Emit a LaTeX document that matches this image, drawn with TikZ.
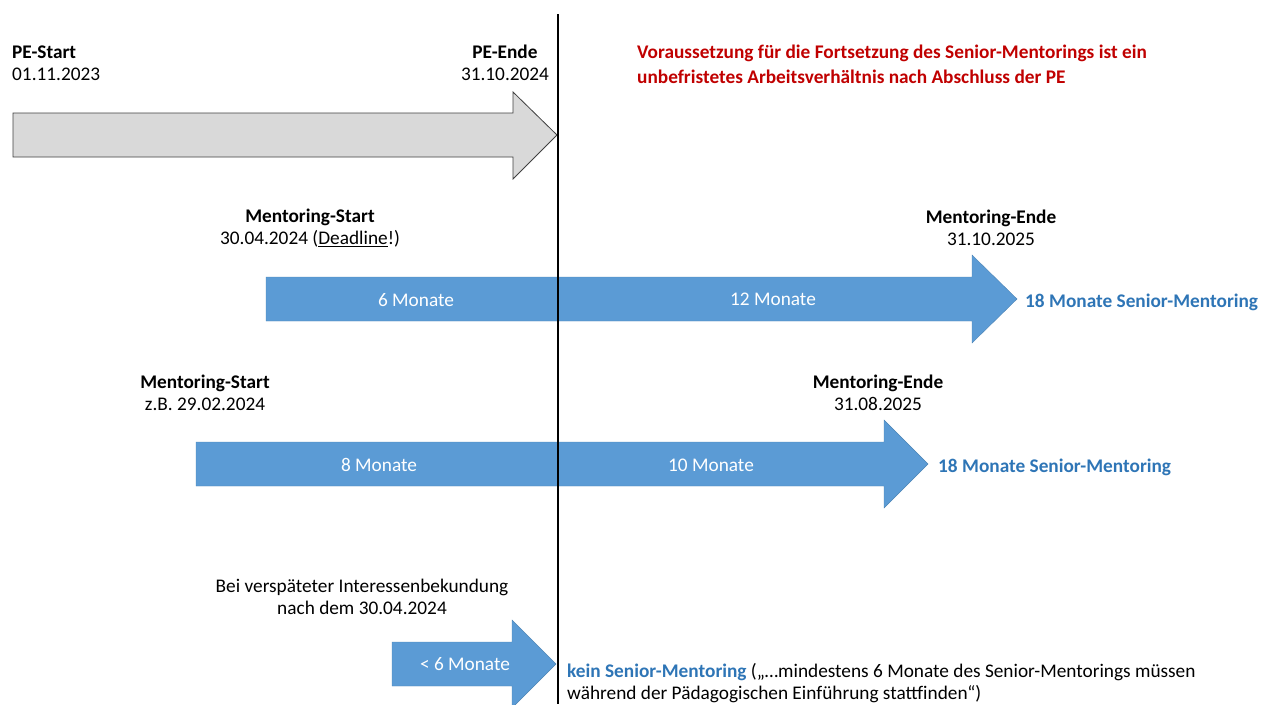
\documentclass[tikz,border=0pt]{standalone}
\usepackage{fontspec}
\setmainfont{Carlito}
\usepackage{tikz}
\usetikzlibrary{positioning}
\definecolor{arrowblue}{HTML}{5B9BD5}
\definecolor{textblue}{HTML}{2E75B6}
\definecolor{textred}{HTML}{C00000}
\definecolor{arrowgray}{HTML}{D9D9D9}

\begin{document}
\begin{tikzpicture}[x=1pt,y=-1pt,inner sep=0pt,font=\fontsize{19.3}{22.5}\selectfont]
\tikzstyle{caption}=[align=center]
\tikzstyle{inarrow}=[text=white]
\tikzstyle{bluearrow}=[fill=arrowblue,draw=arrowblue!85!black,line width=0.4pt]
\tikzstyle{grayarrow}=[fill=arrowgray,draw=black!75,line width=0.8pt]
\tikzstyle{result}=[anchor=west,text=textblue,font=\fontsize{19.3}{22.5}\selectfont\bfseries]

\useasboundingbox (0,0) rectangle (1271,704);

% PE arrow
\filldraw[grayarrow] (13,113) -- (513,113) -- (513,92) -- (557,135) -- (513,179) -- (513,157) -- (13,157) -- cycle;

% mentoring arrows
\filldraw[bluearrow] (266,277) -- (972,277) -- (972,255) -- (1017,299) -- (972,343) -- (972,321) -- (266,321) -- cycle;
\filldraw[bluearrow] (196,442) -- (884,442) -- (884,420) -- (928,464) -- (884,508) -- (884,486) -- (196,486) -- cycle;
\filldraw[bluearrow] (392,642) -- (512,642) -- (512,620) -- (556,664) -- (512,708) -- (512,686) -- (392,686) -- cycle;

% end of PE
\coordinate (lineTop) at (558,14);
\coordinate (lineBottom) at (558,704);
\draw[line width=1.8pt] (lineTop) -- (lineBottom);

% labels
\node[caption,anchor=west,align=left] (peStart) at (12,63) {\textbf{PE-Start}\\01.11.2023};
\node[caption] (peEnde) at (505,63) {\textbf{PE-Ende}\\31.10.2024};
\node[anchor=west,align=left,text=textred,font=\fontsize{19.3}{25}\selectfont\bfseries] (condition) at (637,64)
  {Voraussetzung für die Fortsetzung des Senior-Mentorings ist ein\\unbefristetes Arbeitsverhältnis nach Abschluss der PE};

\node[caption] (msA) at (310,228) {\textbf{Mentoring-Start}\\30.04.2024 (\underline{Deadline}!)};
\node[caption] (meA) at (991,228) {\textbf{Mentoring-Ende}\\31.10.2025};
\node[inarrow] (sixA) at (416,300) {6 Monate};
\node[inarrow] (twelveA) at (773,299) {12 Monate};
\node[result] (totalA) at (1025,302) {18 Monate Senior-Mentoring};

\node[caption] (msB) at (205,393) {\textbf{Mentoring-Start}\\z.B. 29.02.2024};
\node[caption] (meB) at (878,393) {\textbf{Mentoring-Ende}\\31.08.2025};
\node[inarrow] (eightB) at (379,465) {8 Monate};
\node[inarrow] (tenB) at (711,465) {10 Monate};
\node[result] (totalB) at (938,467) {18 Monate Senior-Mentoring};

\node[caption] (late) at (362,597) {Bei verspäteter Interessenbekundung\\nach dem 30.04.2024};
\node[inarrow] (lessSix) at (465,664) {< 6 Monate};
\node[anchor=west,align=left,font=\fontsize{19.3}{22}\selectfont] (noSenior) at (567,683)
  {\textcolor{textblue}{\textbf{kein Senior-Mentoring}} („…mindestens 6 Monate des Senior-Mentorings müssen\\während der Pädagogischen Einführung stattfinden“)};
\end{tikzpicture}
\end{document}
